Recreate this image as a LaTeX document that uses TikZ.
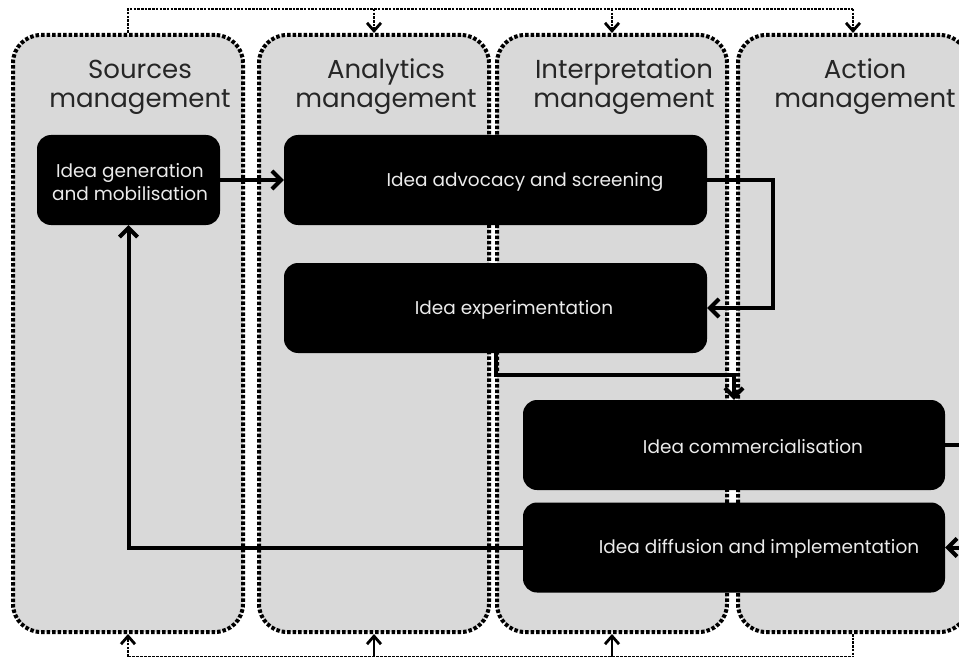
\documentclass[tikz,border=0pt]{standalone}
\usepackage{fontspec}
\setmainfont{Poppins}
\usetikzlibrary{arrows.meta}
\definecolor{laneGray}{RGB}{217,217,217}
\definecolor{boxText}{RGB}{235,235,235}

\begin{document}
\begin{tikzpicture}[x=1pt,y=-1pt,
  lane/.style={draw,fill=laneGray,rounded corners=28pt,line width=4pt,
    dash pattern=on 3.5pt off 2pt,minimum width=230pt,minimum height=597pt,inner sep=0pt},
  lanetitle/.style={font=\fontsize{26}{29}\selectfont,align=center,text=black!85},
  ideabox/.style={fill=black,rounded corners=14pt,minimum height=90pt,inner sep=0pt},
  ideatext/.style={font=\fontsize{18.5}{23}\selectfont,text=boxText,align=center},
  flow/.style={line width=4pt,-{Straight Barb[length=9pt,width=18pt]}},
  bus/.style={line width=2.8pt,dash pattern=on 2.5pt off 1.2pt},
  tip/.style={-{Straight Barb[length=8pt,width=14pt]}}
]
  \useasboundingbox (0,0) rectangle (959,658);
  % --- Couloirs (lanes) ---
  \foreach \i/\cx/\ttl in {1/128/{Sources\\management},2/374/{Analytics\\management},%
                           3/612/{Interpretation\\management},4/853/{Action\\management}} {
    \node[lane] (lane\i) at (\cx,333.5) {};
    \node[lanetitle] (title\i) at (\cx+12,87) {\ttl};
  }
  % --- Boîtes ---
  \node[ideabox,minimum width=183pt] (gen) at (128.5,180) {};
  \node[ideatext] (gentxt) at (130,182) {Idea generation\\and mobilisation};
  \node[ideabox,minimum width=423pt] (adv) at (495.5,180) {};
  \node[ideatext] (advtxt) at (525,182) {Idea advocacy and screening};
  \node[ideabox,minimum width=423pt] (exp) at (495.5,308) {};
  \node[ideatext] (exptxt) at (514,310) {Idea experimentation};
  \node[ideabox,minimum width=422pt] (com) at (734,445) {};
  \node[ideatext] (comtxt) at (753,447) {Idea commercialisation};
  \node[ideabox,minimum width=422pt] (diff) at (734,547.5) {};
  \node[ideatext] (difftxt) at (759,549) {Idea diffusion and implementation};
  % --- Flux ---
  \draw[flow] (gen.east) -- (adv.west);
  \draw[flow] (adv.east) -- ++(66,0) |- (exp.east);
  \draw[flow] (exp.south) -- ++(0,22) -| (com.north);
  \draw[flow] (com.east) -- ++(30,0) |- (diff.east);
  \draw[flow] (diff.west) -| (gen.south);
  % --- Liaisons haut / bas ---
  \coordinate (topbus) at (0,9);
  \coordinate (botbus) at (0,656.5);
  \draw[bus] (lane1.north) -- (lane1.north |- topbus) -- (lane4.north |- topbus);
  \foreach \l in {2,3,4}
    \draw[bus,tip] (lane\l.north |- topbus) -- (lane\l.north);
  \draw[line width=1.2pt,dash pattern=on 3pt off 1pt] (lane1.south |- botbus) -- (lane4.south |- botbus);
  \draw[bus] (lane4.south) -- (lane4.south |- botbus);
  \draw[bus,tip] (lane1.south |- botbus) -- (lane1.south);
  \foreach \l in {2,3}
    \draw[line width=2.8pt,tip] (lane\l.south |- botbus) -- (lane\l.south);
\end{tikzpicture}
\end{document}
